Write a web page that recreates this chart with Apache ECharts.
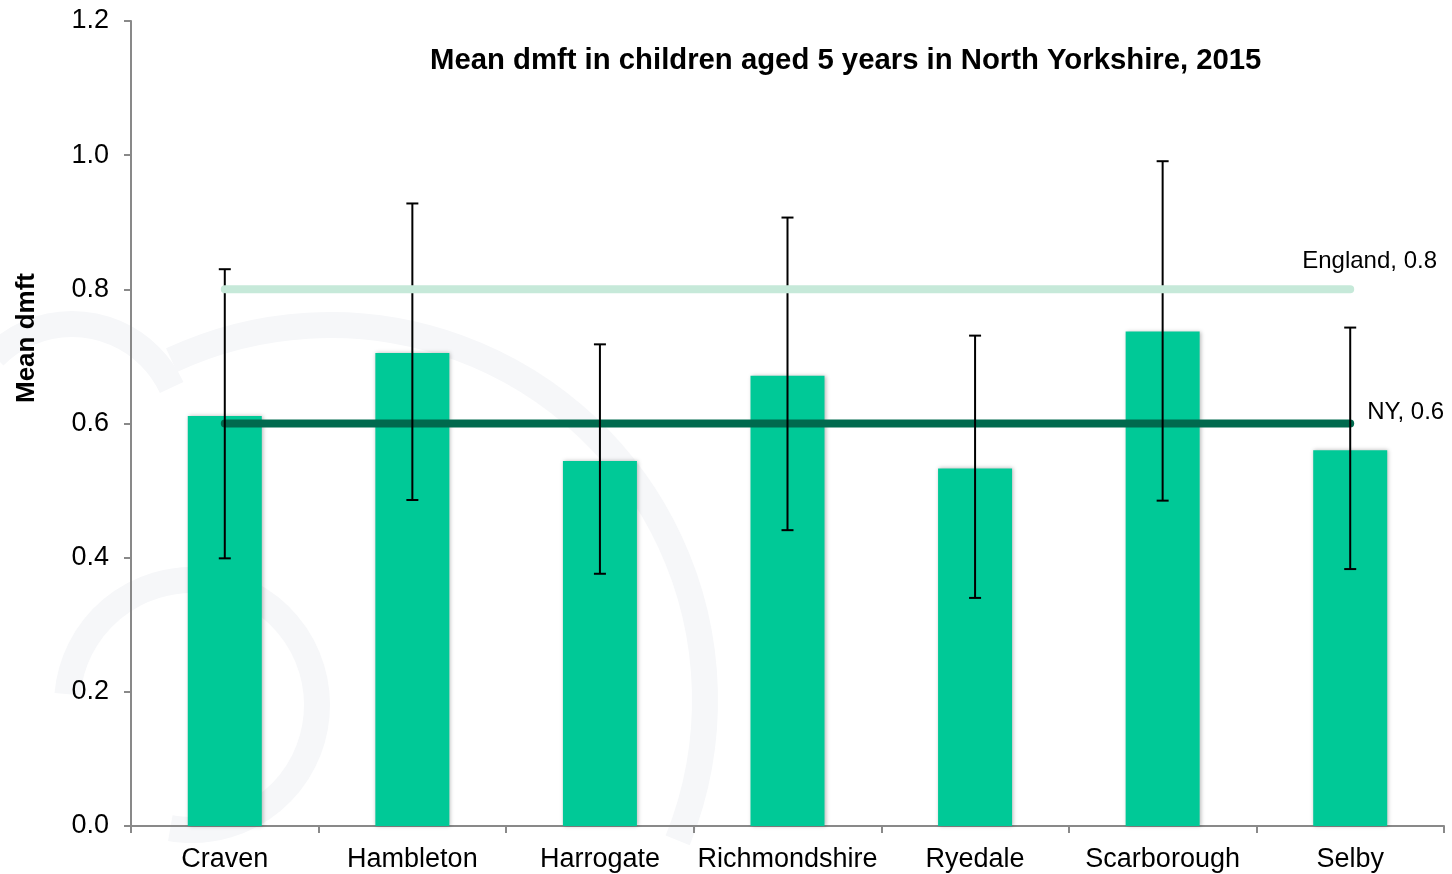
<!DOCTYPE html>
<html>
<head>
<meta charset="utf-8">
<script src="https://cdn.jsdelivr.net/npm/echarts@6/dist/echarts.min.js"></script>
<style>
  html, body { margin: 0; padding: 0; background: #ffffff; }
  #chart { width: 1452px; height: 874px; }
</style>
</head>
<body>
<div id="chart"></div>
<script>
// Districts of North Yorkshire
const districts = ['Craven', 'Hambleton', 'Harrogate', 'Richmondshire', 'Ryedale', 'Scarborough', 'Selby'];
// Mean dmft per district, with 95% confidence limits
const meanDmft = [0.611, 0.705, 0.544, 0.671, 0.533, 0.737, 0.560];
const upperCI  = [0.830, 0.928, 0.718, 0.907, 0.731, 0.991, 0.743];
const lowerCI  = [0.399, 0.486, 0.376, 0.441, 0.340, 0.485, 0.383];
// Benchmarks
const englandMean = 0.8;
const nyMean = 0.6;
// Y axis ticks
const yTicks = [0, 0.2, 0.4, 0.6, 0.8, 1.0, 1.2];

const FONT = "'Liberation Sans', Arial, sans-serif";
const DEG = Math.PI / 180;
const MARK = '#f6f7f9';

const chart = echarts.init(document.getElementById('chart'), null, { renderer: 'canvas' });

const errorData = districts.map((d, i) => [i, lowerCI[i], upperCI[i]]);

// faint decorative emblem behind the plot
function emblemArc(cx, cy, r, a0, a1) {
  return {
    type: 'arc',
    silent: true,
    z: -10,
    shape: { cx: cx, cy: cy, r: r, startAngle: a0 * DEG, endAngle: a1 * DEG, clockwise: true },
    style: { stroke: MARK, lineWidth: 26, fill: null }
  };
}

chart.setOption({
  backgroundColor: '#ffffff',
  animation: false,
  title: {
    text: 'Mean dmft in children aged 5 years in North Yorkshire, 2015',
    left: 425,
    top: 41,
    textStyle: { fontFamily: FONT, fontSize: 29.3, fontWeight: 'bold', color: '#000' }
  },
  graphic: [
    emblemArc(330, 700, 375, -115, 22),
    emblemArc(72, 434, 110, -135, -25),
    emblemArc(192, 705, 125, 185, 460),
    {
      type: 'text',
      x: 27,
      y: 338,
      rotation: Math.PI / 2,
      style: {
        text: 'Mean dmft',
        font: "bold 26px 'Liberation Sans', Arial, sans-serif",
        fill: '#000',
        textAlign: 'center',
        textVerticalAlign: 'middle'
      }
    }
  ],
  grid: { left: 131, right: 8, top: 21, bottom: 48, containLabel: false },
  xAxis: {
    type: 'category',
    data: districts,
    boundaryGap: true,
    axisLine: { lineStyle: { color: '#898989', width: 2 } },
    axisTick: { show: true, length: 7, lineStyle: { color: '#898989', width: 2 } },
    axisLabel: { color: '#000', fontFamily: FONT, fontSize: 27, margin: 20, interval: 0 }
  },
  yAxis: {
    type: 'value',
    min: yTicks[0],
    max: yTicks[yTicks.length - 1],
    interval: 0.2,
    splitLine: { show: false },
    axisLine: { show: true, lineStyle: { color: '#898989', width: 2 } },
    axisTick: { show: true, length: 7, lineStyle: { color: '#898989', width: 2 } },
    axisLabel: {
      color: '#000', fontFamily: FONT, fontSize: 27, margin: 22,
      formatter: v => v.toFixed(1)
    }
  },
  series: [
    {
      name: 'Mean dmft',
      type: 'bar',
      data: meanDmft,
      barWidth: 74,
      z: 2,
      itemStyle: {
        color: '#00c997',
        shadowColor: 'rgba(0,0,0,0.28)',
        shadowBlur: 4,
        shadowOffsetX: 1,
        shadowOffsetY: 0
      }
    },
    {
      name: 'NY',
      type: 'line',
      data: districts.map(() => nyMean),
      symbol: 'none',
      z: 3,
      lineStyle: { color: '#006a4e', width: 8, cap: 'round' },
      endLabel: {
        show: true,
        formatter: 'NY, ' + nyMean.toFixed(1),
        color: '#000',
        fontFamily: FONT,
        fontSize: 24,
        distance: 0,
        offset: [17, -11]
      }
    },
    {
      name: '95% CI',
      type: 'custom',
      data: errorData,
      z: 4,
      renderItem: function (params, api) {
        const x = api.value(0);
        const top = api.coord([x, api.value(2)]);
        const bot = api.coord([x, api.value(1)]);
        const half = 6;
        const style = { stroke: '#000', lineWidth: 2 };
        return {
          type: 'group',
          children: [
            { type: 'line', shape: { x1: top[0], y1: top[1], x2: bot[0], y2: bot[1] }, style },
            { type: 'line', shape: { x1: top[0] - half, y1: top[1], x2: top[0] + half, y2: top[1] }, style },
            { type: 'line', shape: { x1: bot[0] - half, y1: bot[1], x2: bot[0] + half, y2: bot[1] }, style }
          ]
        };
      }
    },
    {
      name: 'England',
      type: 'line',
      data: districts.map(() => englandMean),
      symbol: 'none',
      z: 5,
      lineStyle: { color: '#c6e9d9', width: 8, cap: 'round' },
      endLabel: {
        show: true,
        formatter: 'England, ' + englandMean.toFixed(1),
        color: '#000',
        fontFamily: FONT,
        fontSize: 24,
        distance: 0,
        offset: [-48, -28]
      }
    }
  ]
});
</script>
</body>
</html>
